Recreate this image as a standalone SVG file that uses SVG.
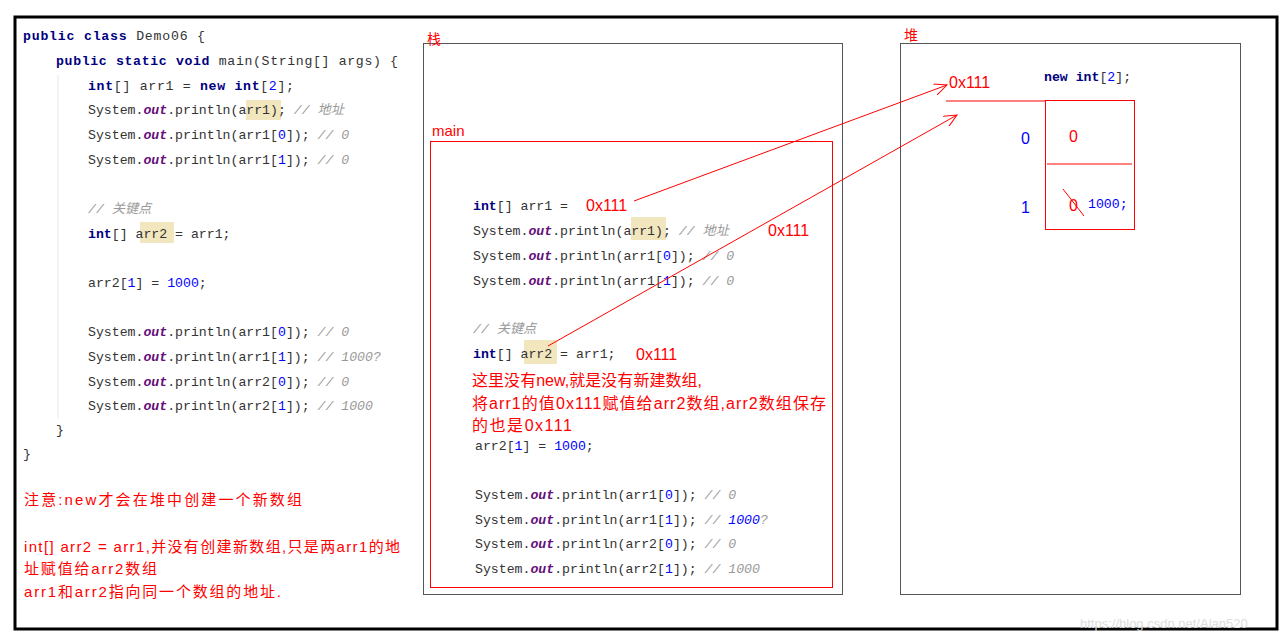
<svg xmlns="http://www.w3.org/2000/svg" width="1280" height="640" viewBox="0 0 1280 640">
<defs>
<style>
.c{font-family:"Liberation Mono","Noto Sans CJK SC",monospace;font-size:13.2px;fill:#333}
.k{font-weight:bold;fill:#000080}
.o{font-weight:bold;font-style:italic;fill:#660E7A}
.n{fill:#0000FF}
.m{font-style:italic;fill:#999}
.r{font-family:"Liberation Sans","Noto Sans CJK SC",sans-serif;fill:#FF0000}
.hl{fill:#F2E6BE}
</style>
<marker id="ah" markerWidth="14" markerHeight="12" refX="13" refY="6" orient="auto" markerUnits="userSpaceOnUse">
<path d="M0,0 L13,6 L0,12" fill="none" stroke="#FF0000" stroke-width="1"/>
</marker>
</defs>
<rect width="1280" height="640" fill="#fff"/>
<rect x="15" y="17" width="1262" height="612" fill="none" stroke="#000" stroke-width="3"/>
<line x1="58" y1="75" x2="58" y2="418" stroke="#e6e6e6"/>

<g id="code">
<rect class="hl" x="246" y="100" width="35" height="20"/>
<rect class="hl" x="140" y="222" width="34" height="21"/>
<text class="c" x="23" y="40" textLength="182" lengthAdjust="spacing"><tspan class="k">public class</tspan> Demo06 {</text>
<text class="c" x="56" y="65" textLength="342" lengthAdjust="spacing"><tspan class="k">public static void</tspan> main(String[] args) {</text>
<text class="c" x="88" y="90" textLength="206" lengthAdjust="spacing"><tspan class="k">int</tspan>[] arr1 = <tspan class="k">new int</tspan>[<tspan class="n">2</tspan>];</text>
<text class="c" x="88" y="114">System.<tspan class="o">out</tspan>.println(arr1); <tspan class="m">//  地址</tspan></text>
<text class="c" x="88" y="139">System.<tspan class="o">out</tspan>.println(arr1[<tspan class="n">0</tspan>]); <tspan class="m">//  0</tspan></text>
<text class="c" x="88" y="164">System.<tspan class="o">out</tspan>.println(arr1[<tspan class="n">1</tspan>]); <tspan class="m">//  0</tspan></text>
<text class="c" x="88" y="213"><tspan class="m">// 关键点</tspan></text>
<text class="c" x="88" y="238"><tspan class="k">int</tspan>[] arr2 = arr1;</text>
<text class="c" x="88" y="287">arr2[<tspan class="n">1</tspan>] = <tspan class="n">1000</tspan>;</text>
<text class="c" x="88" y="336">System.<tspan class="o">out</tspan>.println(arr1[<tspan class="n">0</tspan>]); <tspan class="m">// 0</tspan></text>
<text class="c" x="88" y="361">System.<tspan class="o">out</tspan>.println(arr1[<tspan class="n">1</tspan>]); <tspan class="m">// 1000?</tspan></text>
<text class="c" x="88" y="386">System.<tspan class="o">out</tspan>.println(arr2[<tspan class="n">0</tspan>]); <tspan class="m">// 0</tspan></text>
<text class="c" x="88" y="410">System.<tspan class="o">out</tspan>.println(arr2[<tspan class="n">1</tspan>]); <tspan class="m">// 1000</tspan></text>
<text class="c" x="56" y="434">}</text>
<text class="c" x="23" y="458">}</text>
</g>

<g id="notes" class="r" font-size="15">
<text x="24" y="505" textLength="278" lengthAdjust="spacing">注意:new才会在堆中创建一个新数组</text>
<text x="24" y="552" textLength="376" lengthAdjust="spacing">int[] arr2 = arr1,并没有创建新数组,只是两arr1的地</text>
<text x="24" y="574" textLength="133" lengthAdjust="spacing">址赋值给arr2数组</text>
<text x="24" y="597" textLength="257" lengthAdjust="spacing">arr1和arr2指向同一个数组的地址.</text>
</g>

<g id="stack">
<rect x="423.5" y="43.5" width="419" height="551" fill="none" stroke="#555"/>
<text class="r" x="427" y="44" font-size="14">栈</text>
</g>

<g id="main">
<rect x="430.5" y="141.5" width="402" height="446" fill="none" stroke="#FF0000"/>
<text class="r" x="432" y="136" font-size="15">main</text>
<rect class="hl" x="631" y="217" width="35" height="23"/>
<rect class="hl" x="524" y="340" width="33" height="24"/>
<text class="c" x="473" y="210"><tspan class="k">int</tspan>[] arr1 = </text>
<text class="r" x="586" y="211" font-size="16">0x111</text>
<text class="c" x="473" y="235">System.<tspan class="o">out</tspan>.println(arr1); <tspan class="m">//  地址</tspan></text>
<text class="r" x="768" y="236" font-size="16">0x111</text>
<text class="c" x="473" y="260">System.<tspan class="o">out</tspan>.println(arr1[<tspan class="n">0</tspan>]); <tspan class="m">//  0</tspan></text>
<text class="c" x="473" y="285">System.<tspan class="o">out</tspan>.println(arr1[<tspan class="n">1</tspan>]); <tspan class="m">//  0</tspan></text>
<text class="c" x="473" y="333"><tspan class="m">// 关键点</tspan></text>
<text class="c" x="473" y="358"><tspan class="k">int</tspan>[] arr2 = arr1;</text>
<text class="r" x="636" y="360" font-size="16">0x111</text>
<text class="r" x="472" y="386" font-size="16" textLength="230" lengthAdjust="spacing">这里没有new,就是没有新建数组,</text>
<text class="r" x="472" y="409" font-size="16" textLength="354" lengthAdjust="spacing">将arr1的值0x111赋值给arr2数组,arr2数组保存</text>
<text class="r" x="472" y="431" font-size="16" textLength="100" lengthAdjust="spacing">的也是0x111</text>
<text class="c" x="475" y="450">arr2[<tspan class="n">1</tspan>] = <tspan class="n">1000</tspan>;</text>
<text class="c" x="475" y="499">System.<tspan class="o">out</tspan>.println(arr1[<tspan class="n">0</tspan>]); <tspan class="m">// 0</tspan></text>
<text class="c" x="475" y="524">System.<tspan class="o">out</tspan>.println(arr1[<tspan class="n">1</tspan>]); <tspan class="m">// </tspan><tspan class="n" font-style="italic">1000</tspan><tspan class="m">?</tspan></text>
<text class="c" x="475" y="548">System.<tspan class="o">out</tspan>.println(arr2[<tspan class="n">0</tspan>]); <tspan class="m">// 0</tspan></text>
<text class="c" x="475" y="573">System.<tspan class="o">out</tspan>.println(arr2[<tspan class="n">1</tspan>]); <tspan class="m">// 1000</tspan></text>
</g>

<g id="heap">
<rect x="900.5" y="43.5" width="340" height="551" fill="none" stroke="#555"/>
<text class="r" x="904" y="40" font-size="14">堆</text>
<text class="r" x="949" y="88" font-size="16">0x111</text>
<text class="c" x="1044" y="81"><tspan class="k">new int</tspan>[<tspan class="n">2</tspan>];</text>
</g>

<g id="array">
<line x1="946" y1="101" x2="1045" y2="101" stroke="#FF0000"/>
<rect x="1045.5" y="100.5" width="89" height="129" fill="none" stroke="#FF0000"/>
<line x1="1047" y1="164" x2="1132" y2="164" stroke="#FF0000"/>
<text x="1021" y="144" font-family="Liberation Sans,sans-serif" font-size="16" fill="#0000FF">0</text>
<text x="1021" y="213" font-family="Liberation Sans,sans-serif" font-size="16" fill="#0000FF">1</text>
<text class="r" x="1069" y="142" font-size="16">0</text>
<text class="r" x="1069" y="211" font-size="16">0</text>
<line x1="1063" y1="189" x2="1084" y2="216" stroke="#FF0000"/>
<text class="c" x="1088" y="208" style="fill:#0000FF">1000;</text>
</g>

<g id="connectors" stroke="#FF0000" stroke-width="1" fill="none">
<line x1="634" y1="201" x2="947" y2="85" marker-end="url(#ah)"/>
<line x1="548" y1="346" x2="957" y2="115" marker-end="url(#ah)"/>
</g>

<text x="1080" y="628" font-family="Liberation Sans,sans-serif" font-size="13" fill="#ddd">https://blog.csdn.net/Alan520</text>
</svg>
